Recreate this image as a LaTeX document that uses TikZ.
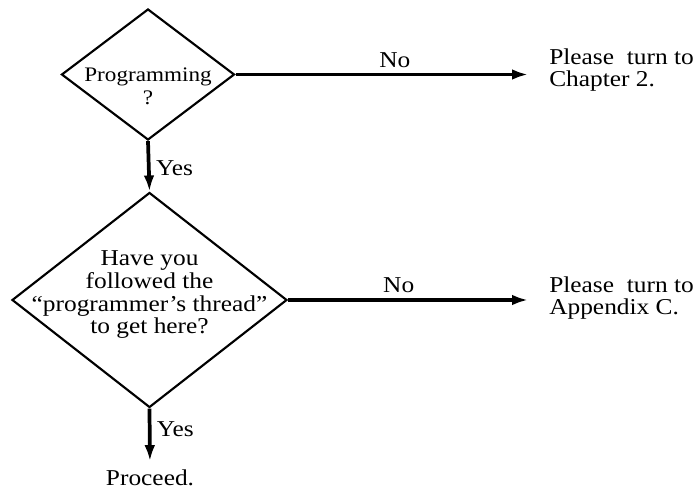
\documentclass[tikz,border=0pt]{standalone}
\usepackage{fontspec}
\setmainfont{Liberation Serif}[FakeStretch=1.12]
\usetikzlibrary{shapes.geometric,arrows.meta}
\tikzset{
  decision/.style={diamond, draw, line width=1.6pt, inner sep=0pt},
  flow/.style={line width=2.8pt, -{Latex[length=12pt,width=8pt]}},
  answer/.style={font=\fontsize{17}{17}\selectfont, inner sep=0pt, align=left, anchor=west},
  qtext/.style={font=\fontsize{17}{17}\selectfont, inner sep=0pt, align=center},
  tag/.style={font=\fontsize{17}{17}\selectfont, inner sep=0pt}
}
\begin{document}
\begin{tikzpicture}[x=0.75pt,y=0.75pt,yscale=-1,xscale=1]
    \useasboundingbox (0,0) rectangle (694,491);
    %Questions
    \node[decision, minimum width=129.75pt, minimum height=98.25pt] (prog) at (148,74.5) {};
    \node[qtext, font=\fontsize{15.5}{17}\selectfont] (progtxt) at (148,86) {Programming\\?};
    \node[decision, minimum width=206.25pt, minimum height=161.25pt] (thread) at (149.5,300) {};
    \node[qtext] (threadtxt) at (149.5,295) {Have you\\followed the\\``programmer's thread''\\to get here?};
    %Answers
    \node[answer] (chap) at (549,70) {Please\ \ turn to\\Chapter 2.};
    \node[answer] (appx) at (549,298) {Please\ \ turn to\\Appendix C.};
    \node[tag] (proceed) at (150,478) {Proceed.};
    %No
    \draw[flow, shorten >=15.75pt] (prog.east) -- (prog.east -| chap.west) node[tag, pos=0.508, above=4pt] {No};
    \draw[flow, shorten >=15.75pt] (thread.east) -- (thread.east -| appx.west) node[tag, pos=0.424, above=4pt] {No};
    %Yes
    \draw[flow] (prog.south) -- (thread.north) node[tag, pos=0.54, right=4pt] {Yes};
    \draw[flow, shorten >=6.4pt] (thread.south) -- (proceed.north) node[tag, pos=0.33, right=4pt] {Yes};
\end{tikzpicture}
\end{document}
